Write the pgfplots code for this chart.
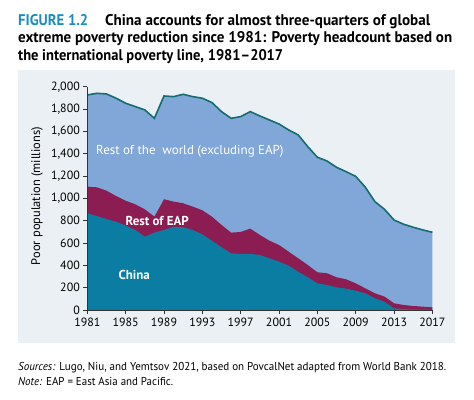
\documentclass[border=0pt]{standalone}
\usepackage{pgfplots}
\pgfplotsset{compat=1.18}
\usepackage{pgfplotstable}
\usepackage{fontspec}
\setmainfont{PT Sans}
\definecolor{panel}{HTML}{EAF0F4}
\definecolor{world}{HTML}{80A7D7}
\definecolor{eap}{HTML}{8C1D52}
\definecolor{china}{HTML}{0B7DA3}
\definecolor{topline}{HTML}{176C70}
\definecolor{figblue}{HTML}{1B8CBF}
\newlength\tw
\newcommand\fitline[2]{\settowidth\tw{#2}\pgfmathsetmacro\sx{#1/\tw}\scalebox{\sx}[1]{#2}}
\pgfplotstableread{
year total eap china
1981 1926 1105 866
1982 1941 1099 842
1983 1935 1069 815
1984 1897 1021 791
1985 1852 979 756
1986 1822 947 717
1987 1792 902 657
1988 1717 836 693
1989 1917 992 717
1990 1911 971 745
1991 1932 956 741
1992 1911 926 717
1993 1897 893 677
1994 1858 836 621
1995 1777 762 562
1996 1717 693 508
1997 1732 699 502
1998 1777 729 502
1999 1738 672 493
2000 1702 621 463
2001 1666 582 433
2002 1613 523 397
2003 1568 463 343
2004 1463 403 293
2005 1368 338 239
2006 1335 329 224
2007 1278 293 203
2008 1239 275 191
2009 1197 239 173
2010 1100 194 150
2011 971 150 105
2012 902 120 74
2013 806 60 15
2014 768 45 8
2015 741 36 5
2016 717 30 3
2017 696 24 2
}\datatable
\begin{document}
\begin{tikzpicture}[x=1bp,y=1bp]
\useasboundingbox (0,0) rectangle (474,399);
\fill[white] (0,0) rectangle (474,399);
\fill[panel] (18,56) rectangle (455,329);
% title
\node[anchor=base west,inner sep=0pt,font=\fontsize{15.5}{15.5}\selectfont\bfseries,text=figblue] at (18,374) {\fitline{70bp}{FIGURE 1.2}};
\node[anchor=base west,inner sep=0pt,font=\fontsize{15.5}{15.5}\selectfont\bfseries] at (105,374) {\fitline{325bp}{China accounts for almost three-quarters of global}};
\node[anchor=base west,inner sep=0pt,font=\fontsize{15.5}{15.5}\selectfont\bfseries] at (18,356.5) {\fitline{434bp}{extreme poverty reduction since 1981: Poverty headcount based on}};
\node[anchor=base west,inner sep=0pt,font=\fontsize{15.5}{15.5}\selectfont\bfseries] at (18,339) {\fitline{265bp}{the international poverty line, 1981–2017}};
% notes
\node[anchor=base west,inner sep=0pt,font=\fontsize{11.5}{11.5}\selectfont] at (18,29) {\fitline{428bp}{\textit{Sources:} Lugo, Niu, and Yemtsov 2021, based on PovcalNet adapted from World Bank 2018.}};
\node[anchor=base west,inner sep=0pt,font=\fontsize{11.5}{11.5}\selectfont] at (18,13.7) {\fitline{155bp}{\textit{Note:} EAP = East Asia and Pacific.}};
% y label
\node[rotate=90,inner sep=0pt,font=\fontsize{12.5}{12.5}\selectfont] at (37,203) {Poor population (millions)};
\begin{axis}[
  at={(87.3bp,89bp)}, anchor=south west,
  scale only axis, width=345.1bp, height=223.3bp,
  xmin=1981, xmax=2017, ymin=0, ymax=2000,
  axis x line=bottom, axis y line=left,
  axis line style={-, draw=black!80, line width=0.6bp},
  axis on top,
  tick align=outside, major tick length=4bp,
  tick style={draw=black!80, line width=0.6bp},
  xtick={1981,1985,...,2017},
  ytick={0,200,...,2000},
  xticklabel style={/pgf/number format/1000 sep={}},
  yticklabel style={/pgf/number format/1000 sep={,}},
  /pgf/number format/assume math mode=true,
  tick label style={font=\fontsize{12}{12}\selectfont},
  clip=false,
]
\addplot[draw=none, fill=world] table[x=year,y=total] {\datatable} \closedcycle;
\addplot[draw=none, fill=eap] table[x=year,y=eap] {\datatable} \closedcycle;
\addplot[draw=none, fill=china] table[x=year,y=china] {\datatable} \closedcycle;
\addplot[topline, line width=1.6bp] table[x=year,y=total] {\datatable};
\node[text=white,font=\fontsize{13}{13}\selectfont] at (axis cs:1991.7,1420) {Rest of the\ \ world (excluding EAP)};
\node[text=white,font=\fontsize{13}{13}\selectfont\bfseries] at (axis cs:1988.3,800) {Rest of EAP};
\node[text=white,font=\fontsize{13}{13}\selectfont\bfseries] at (axis cs:1985.9,315) {China};
\end{axis}
\end{tikzpicture}
\end{document}
